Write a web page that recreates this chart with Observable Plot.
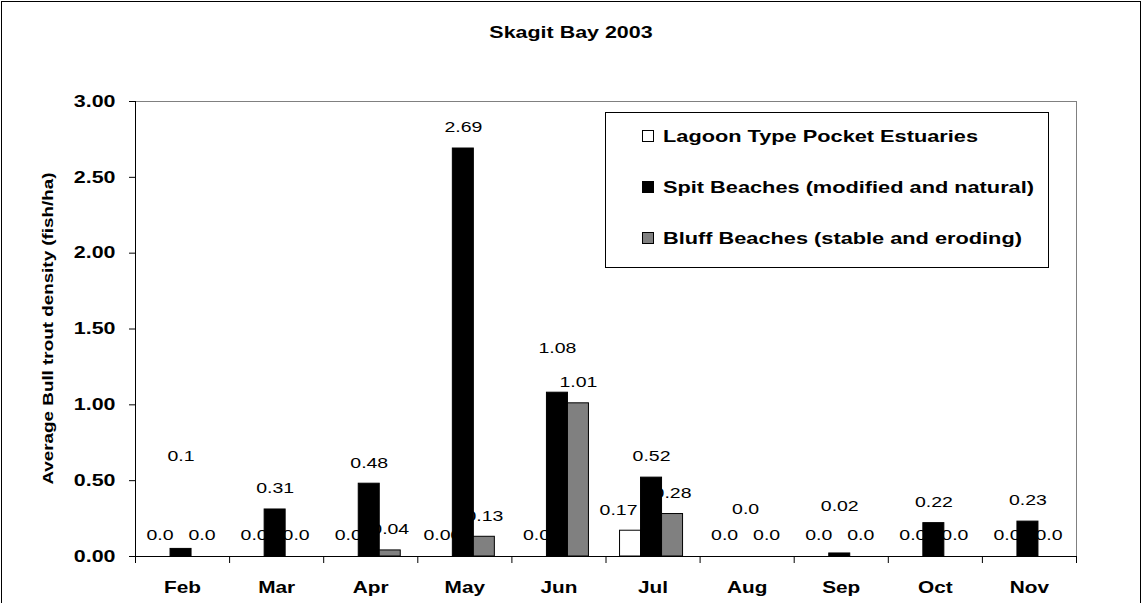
<!DOCTYPE html>
<html>
<head>
<meta charset="utf-8">
<script src="https://cdn.jsdelivr.net/npm/d3@7"></script>
<script src="https://cdn.jsdelivr.net/npm/@observablehq/plot@0.6"></script>
<style>
  html, body { margin: 0; padding: 0; background: white; }
  #chart svg { display: block; }
</style>
</head>
<body>
<div id="chart"></div>
<script>
// ---- data ----
const title = "Skagit Bay 2003";
const yTitle = "Average Bull trout density (fish/ha)";
const months = ["Feb", "Mar", "Apr", "May", "Jun", "Jul", "Aug", "Sep", "Oct", "Nov"];
const seriesNames = [
  "Lagoon Type Pocket Estuaries",
  "Spit Beaches (modified and natural)",
  "Bluff Beaches (stable and eroding)"
];
const lagoon = [0, 0, 0, 0, 0, 0.17, 0, 0, 0, 0];
const spit   = [0.05, 0.31, 0.48, 2.69, 1.08, 0.52, 0, 0.02, 0.22, 0.23];
const bluff  = [0, 0, 0.04, 0.13, 1.01, 0.28, 0, 0, 0, 0];
const lagoonLabels = ["0.0", "0.0", "0.0", "0.00", "0.0", "0.17", "0.0", "0.0", "0.0", "0.0"];
const spitLabels   = ["0.1", "0.31", "0.48", "2.69", "1.08", "0.52", "0.0", "0.02", "0.22", "0.23"];
const bluffLabels  = ["0.0", "0.0", "0.04", "0.13", "1.01", "0.28", "0.0", "0.0", "0.0", "0.0"];
const yTicks = [0, 0.5, 1, 1.5, 2, 2.5, 3];

// ---- styling ----
const colors = ["white", "black", "#808080"];
const FONT = "'Liberation Sans', Arial, Helvetica, sans-serif";
const STRETCH = 1.3;       // glyphs in the original are drawn wider than normal
const LEGEND_STRETCH = 1.28;
const BW = 0.2232;         // bar width in category units
const SHIFT = -0.016;      // small group offset
const labelNudge = { "Feb|1": [0, -93], "Jun|1": [0, -45], "Aug|1": [0, -47], "Sep|1": [0, -47], "Jul|0": [-12, -21] };
const DEFAULT_NUDGE = [0, -21];

// ---- table ----
const valueSets = [lagoon, spit, bluff];
const labelSets = [lagoonLabels, spitLabels, bluffLabels];
const rows = [];
months.forEach((m, i) => {
  valueSets.forEach((vals, j) => {
    const c = i + (j - 1) * BW + SHIFT;
    const n = labelNudge[m + "|" + j] ?? DEFAULT_NUDGE;
    rows.push({ month: m, i, j, series: seriesNames[j], value: vals[i], label: labelSets[j][i],
                x1: c - BW / 2, x2: c + BW / 2, xc: c, nudge: n.join(",") });
  });
});
const nudges = [...new Set(rows.map(d => d.nudge))];

const svg = Plot.plot({
  width: 1143,
  height: 603,
  marginLeft: 135,
  marginRight: 67,
  marginTop: 101,
  marginBottom: 47,
  x: { domain: [-0.5, 9.5] },
  y: { domain: [0, 3] },
  style: { fontFamily: FONT, color: "black", background: "white", overflow: "visible" },
  marks: [
    // data labels (drawn beneath bars, as in the original)
    ...nudges.map(key => {
      const [dx, dy] = key.split(",").map(Number);
      return Plot.text(rows.filter(d => d.nudge === key), {
        x: "xc", y: "value", text: "label", dx, dy, fontSize: 15, fill: "black"
      });
    }),
    // bars
    Plot.rectY(rows, {
      x1: "x1", x2: "x2", y: "value",
      fill: d => colors[d.j], stroke: "black", strokeWidth: 1
    }),
    // plot area border (gray top/right) and axis lines
    Plot.ruleY([3], { stroke: "#808080" }),
    Plot.ruleX([9.5], { stroke: "#808080", y1: 0, y2: 3 }),
    Plot.ruleX([-0.5], { stroke: "black" }),
    Plot.ruleY([0], { stroke: "black" }),
    // y axis
    Plot.axisY({
      ticks: yTicks, tickFormat: d3.format(".2f"), tickSize: 6, tickPadding: 14,
      fontSize: 16.5, fontWeight: "bold", label: null
    }),
    // x axis: boundary ticks
    Plot.axisX({
      ticks: d3.range(-0.5, 10, 1), tickFormat: () => "", tickSize: 7, label: null
    }),
    // x axis: month names
    Plot.axisX({
      ticks: d3.range(months.length), tickFormat: i => months[i], tickSize: 0, tickPadding: 25,
      fontSize: 16, fontWeight: "bold", label: null
    })
  ]
});

const s = d3.select(svg);

// title
s.append("text")
  .attr("transform", "translate(571,38)")
  .attr("text-anchor", "middle")
  .attr("font-family", FONT).attr("font-size", 16.5).attr("font-weight", "bold")
  .text(title);

// y-axis title
s.append("text")
  .attr("transform", "translate(53,328.5) rotate(-90)")
  .attr("text-anchor", "middle")
  .attr("font-family", FONT).attr("font-size", 14.5).attr("font-weight", "bold")
  .text(yTitle);

// stretch every glyph run along its baseline
svg.querySelectorAll("text").forEach(t => {
  let tr = t.getAttribute("transform") || "";
  const x = t.getAttribute("x"), y = t.getAttribute("y");
  if ((x !== null || y !== null) && !tr) {
    tr = `translate(${x || 0},${y || 0})`;
    t.removeAttribute("x"); t.removeAttribute("y");
  }
  t.setAttribute("transform", (tr + ` scale(${STRETCH},1)`).trim());
});
svg.querySelectorAll('[aria-label="y-axis tick label"] text, [aria-label="x-axis tick label"] text').forEach(t => {
  t.setAttribute("font-weight", "bold");
});

// legend
const lg = s.append("g").attr("aria-label", "legend").attr("text-anchor", "start");
lg.append("rect").attr("x", 605.5).attr("y", 112.5).attr("width", 443).attr("height", 155)
  .attr("fill", "white").attr("stroke", "black");
const rowsY = [136, 187, 238];
seriesNames.forEach((name, j) => {
  lg.append("rect").attr("x", 642.5).attr("y", rowsY[j] - 5.5).attr("width", 11).attr("height", 11)
    .attr("fill", colors[j]).attr("stroke", "black");
  lg.append("text")
    .attr("transform", `translate(663,${rowsY[j]}) scale(${LEGEND_STRETCH},1)`)
    .attr("text-anchor", "start")
    .attr("dy", "0.36em")
    .attr("font-family", FONT).attr("font-size", 17).attr("font-weight", "bold")
    .text(name);
});

// outer border
s.append("rect").attr("x", 1.5).attr("y", 1.5).attr("width", 1139).attr("height", 640)
  .attr("fill", "none").attr("stroke", "black");

document.getElementById("chart").appendChild(svg);
</script>
</body>
</html>
